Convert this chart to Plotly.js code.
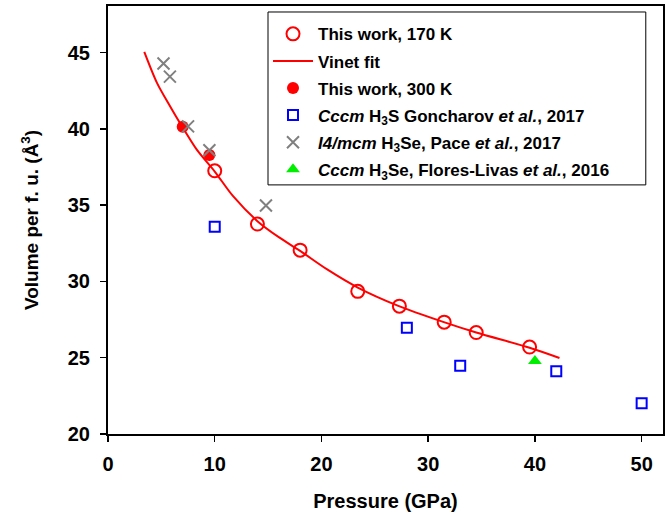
<!DOCTYPE html>
<html>
<head>
<meta charset="utf-8">
<script src="https://cdn.plot.ly/plotly-3.0.1.min.js"></script>
<style>html,body{margin:0;padding:0;background:#fff;}#chart{width:670px;height:517px;}</style>
</head>
<body>
<div id="chart"></div>
<script>
// This work, 170 K (open circles)
const p170 = [10.0, 14.0, 18.0, 23.4, 27.3, 31.5, 34.5, 39.5];
const v170 = [37.25, 33.76, 32.05, 29.35, 28.38, 27.33, 26.65, 25.7];
// Vinet fit
const pFit = [3.4, 4.6, 5.8, 6.9, 8.3, 10.0, 11.7, 14.0, 16.0, 18.0, 20.5, 23.4, 27.2, 31.4, 34.5, 39.5, 42.3];
const vFit = [45.05, 43.0, 41.5, 40.2, 38.65, 37.2, 35.6, 33.95, 32.9, 32.0, 30.8, 29.6, 28.4, 27.35, 26.65, 25.65, 24.98];
// This work, 300 K (filled circles)
const p300 = [7.0, 9.5];
const v300 = [40.14, 38.28];
// Cccm H3S Goncharov et al., 2017
const pGon = [10.0, 28.0, 33.0, 42.0, 50.0];
const vGon = [33.58, 26.97, 24.48, 24.12, 22.02];
// I4/mcm H3Se, Pace et al., 2017
const pPace = [5.2, 5.8, 7.5, 9.5, 14.8];
const vPace = [44.28, 43.42, 40.16, 38.6, 34.98];
// Cccm H3Se, Flores-Livas et al., 2016
const pFlo = [40.0];
const vFlo = [24.78];

const names = [
  "<b>This work, 170 K</b>",
  "<b>Vinet fit</b>",
  "<b>This work, 300 K</b>",
  "<b><i>Cccm</i> H<sub>3</sub>S Goncharov <i>et al.</i>, 2017</b>",
  "<b><i>I4/mcm</i> H<sub>3</sub>Se, Pace <i>et al.</i>, 2017</b>",
  "<b><i>Cccm</i> H<sub>3</sub>Se, Flores-Livas <i>et al.</i>, 2016</b>"
];

const traces = [
  {x: pFit, y: vFit, mode: 'lines', name: names[1], line: {color: '#ff0000', width: 2, shape: 'spline', smoothing: 0.8}, legendrank: 2, legendgroup: 'b'},
  {x: p170, y: v170, mode: 'markers', name: names[0], marker: {symbol: 'circle-open', size: 13, color: '#ff0000', line: {width: 2, color: '#ff0000'}}, legendrank: 1, legendgroup: 'a'},
  {x: p300, y: v300, mode: 'markers', name: names[2], marker: {symbol: 'circle', size: 12, color: '#ff0000'}, legendrank: 3, legendgroup: 'c'},
  {x: pGon, y: vGon, mode: 'markers', name: names[3], marker: {symbol: 'square-open', size: 10, color: '#0000ff', line: {width: 2, color: '#0000ff'}}, legendrank: 4, legendgroup: 'd'},
  {x: pPace, y: vPace, mode: 'markers', name: names[4], marker: {symbol: 'x-thin-open', size: 12, color: '#808080', line: {width: 2, color: '#808080'}}, legendrank: 5, legendgroup: 'e'},
  {x: pFlo, y: vFlo, mode: 'markers', name: names[5], marker: {symbol: 'triangle-up', size: 12, color: '#00ee00'}, legendrank: 6, legendgroup: 'f'}
];

const font = {family: '"Liberation Sans", Arial, sans-serif', color: '#000'};

const layout = {
  width: 670, height: 517,
  margin: {l: 108, r: 7, t: 6, b: 83},
  paper_bgcolor: '#fff', plot_bgcolor: '#fff',
  showlegend: true,
  legend: {
    x: 0.2883, y: 0.976, xanchor: 'left', yanchor: 'top',
    borderwidth: 0, bgcolor: 'rgba(0,0,0,0)',
    font: Object.assign({size: 17}, font),
    tracegroupgap: 2, itemwidth: 40
  },
  shapes: [
    {type: 'rect', xref: 'paper', yref: 'paper', x0: 0.2883, x1: 0.969, y0: 0.582, y1: 0.986,
     line: {color: '#000', width: 1}, fillcolor: 'rgba(0,0,0,0)', layer: 'above'}
  ],
  xaxis: {
    range: [0, 52], tickvals: [0, 10, 20, 30, 40, 50], ticktext: ['0','10','20','30','40','50'],
    showgrid: false, zeroline: false,
    showline: true, linecolor: '#000', linewidth: 2, mirror: true,
    ticks: 'outside', ticklen: 6, tickwidth: 1.5, tickcolor: '#000',
    tickfont: Object.assign({size: 20, weight: 'bold'}, font),
    ticklabelstandoff: 5,
    title: {text: '<b>Pressure (GPa)</b>', font: Object.assign({size: 20}, font), standoff: 20}
  },
  yaxis: {
    range: [20, 48.05], tickvals: [20, 25, 30, 35, 40, 45], ticktext: ['20','25','30','35','40','45'],
    showgrid: false, zeroline: false,
    showline: true, linecolor: '#000', linewidth: 2, mirror: true,
    ticks: 'outside', ticklen: 6, tickwidth: 1.5, tickcolor: '#000',
    tickfont: Object.assign({size: 20, weight: 'bold'}, font),
    ticklabelstandoff: 6,
    title: {text: '<b>Volume per f. u. (Å<sup>3</sup>)</b>', font: Object.assign({size: 19}, font), standoff: 24}
  }
};

Plotly.newPlot('chart', traces, layout, {displayModeBar: false, staticPlot: true});
</script>
</body>
</html>
